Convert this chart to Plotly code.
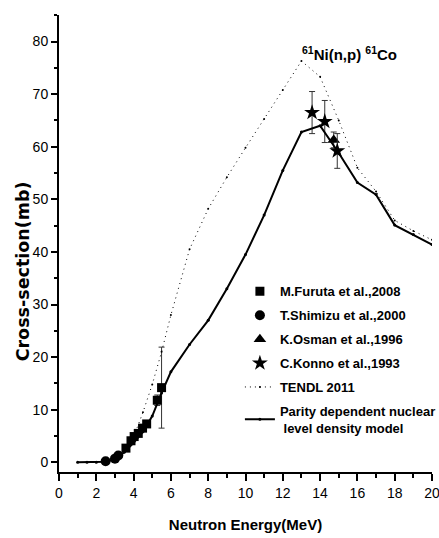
import plotly.graph_objects as go

# ---- data ----
model_x = [1, 1.5, 2, 2.5, 3, 3.5, 4, 4.5, 5, 5.5, 6, 7, 8, 9, 10, 11, 12, 13, 14, 15, 16, 17, 18, 19, 20]
model_y = [0, 0, 0, 0.1, 0.6, 1.9, 3.7, 5.8, 8.8, 13.2, 17.2, 22.4, 27.0, 33.0, 39.5, 47.0, 55.5, 62.8, 64.0, 58.8, 53.2, 50.9, 45.1, 43.3, 41.4]

tendl_x = [3, 3.5, 4, 4.5, 5, 5.5, 6, 7, 8, 9, 10, 11, 12, 13, 14, 15, 16, 17, 18, 19, 20]
tendl_y = [0.4, 2.0, 4.8, 9.5, 14.8, 21.0, 28.0, 40.5, 48.2, 54.2, 59.8, 65.3, 70.8, 76.3, 73.3, 65.0, 56.0, 51.5, 46.0, 44.0, 42.3]

furuta_x = [3.59, 3.86, 4.03, 4.25, 4.48, 4.70, 5.27, 5.50]
furuta_y = [2.7, 4.1, 4.9, 5.5, 6.5, 7.3, 11.8, 14.2]
furuta_err = [0, 0, 0, 0, 0, 0, 1.0, 7.7]

shimizu_x = [2.5, 3.0, 3.18]
shimizu_y = [0.2, 0.7, 1.3]

osman_x = [14.73]
osman_y = [61.3]
osman_err = [1.5]

konno_x = [13.57, 14.25, 14.92]
konno_y = [66.5, 64.8, 59.2]
konno_err = [4.0, 4.0, 3.3]

x_ticks = [0, 2, 4, 6, 8, 10, 12, 14, 16, 18, 20]
y_ticks = [0, 10, 20, 30, 40, 50, 60, 70, 80]

FONT = "Liberation Sans, Arial, sans-serif"

fig = go.Figure()

err_style = dict(type="data", visible=True, color="#333", thickness=1, width=3)

fig.add_trace(go.Scatter(
    x=furuta_x, y=furuta_y, mode="markers", name="<b>M.Furuta et al.,2008</b>",
    marker=dict(symbol="square", size=9, color="black"),
    error_y=dict(array=furuta_err, **err_style), legendgroup="a"))
fig.add_trace(go.Scatter(
    x=shimizu_x, y=shimizu_y, mode="markers", name="<b>T.Shimizu et al.,2000</b>",
    marker=dict(symbol="circle", size=10, color="black"), legendgroup="b"))
fig.add_trace(go.Scatter(
    x=osman_x, y=osman_y, mode="markers", name="<b>K.Osman et al.,1996</b>",
    marker=dict(symbol="triangle-up", size=11, color="black"),
    error_y=dict(array=osman_err, **err_style), legendgroup="c"))
fig.add_trace(go.Scatter(
    x=konno_x, y=konno_y, mode="markers", name="<b>C.Konno et al.,1993</b>",
    marker=dict(symbol="star", size=12, color="black"),
    error_y=dict(array=konno_err, **err_style), legendgroup="d"))
fig.add_trace(go.Scatter(
    x=tendl_x, y=tendl_y, mode="lines+markers", name="<b>TENDL 2011</b>",
    line=dict(color="black", width=1, dash="1px,4px"),
    marker=dict(size=2, color="black"), legendgroup="e"))
fig.add_trace(go.Scatter(
    x=model_x, y=model_y, mode="lines+markers",
    name="<b>Parity dependent nuclear</b><br><b>\u00a0level density model</b>",
    line=dict(color="black", width=2),
    marker=dict(size=3, color="black"), legendgroup="f"))

fig.add_annotation(
    text="<b><sup>61</sup>Ni(n,p) <sup>61</sup>Co</b>",
    xref="paper", yref="paper", x=0.78, y=0.915, xanchor="center", yanchor="middle",
    showarrow=False, font=dict(family=FONT, size=15, color="black"))

fig.add_annotation(
    text="<b>Cross-section(mb)</b>", textangle=-90,
    xref="paper", yref="paper", x=-0.098, y=0.44, xanchor="center", yanchor="middle",
    showarrow=False, font=dict(family="DejaVu Sans", size=17.5, color="black"))

fig.update_layout(
    width=439, height=538,
    margin=dict(l=59, r=7, t=15, b=66, autoexpand=False),
    paper_bgcolor="white", plot_bgcolor="white",
    showlegend=True,
    legend=dict(x=0.485, y=0.428, xanchor="left", yanchor="top",
                bgcolor="rgba(0,0,0,0)", font=dict(family=FONT, size=13, color="black"),
                tracegroupgap=4, itemwidth=30),
    xaxis=dict(range=[0, 20], tickvals=x_ticks, ticks="outside", ticklen=7, tickwidth=1.5,
               tickcolor="black", showline=True, linecolor="black", linewidth=2,
               showgrid=False, zeroline=False, ticklabeloverflow="allow",
               tickfont=dict(family=FONT, size=14, color="black"),
               minor=dict(dtick=1, ticks="outside", ticklen=4, tickcolor="black", tickwidth=1.5),
               title=dict(text="<b>Neutron Energy(MeV)</b>", standoff=20,
                          font=dict(family=FONT, size=15, color="black"))),
    yaxis=dict(range=[-1.84, 85.05], tickvals=y_ticks, ticks="outside", ticklen=6, tickwidth=1.5,
               tickcolor="black", showline=True, linecolor="black", linewidth=2,
               showgrid=False, zeroline=False,
               tickfont=dict(family=FONT, size=14, color="black"),
               minor=dict(dtick=5, ticks="outside", ticklen=3, tickcolor="black", tickwidth=1.5)),
)

fig.write_html("out.html", config={"displayModeBar": False},
               post_script="document.body.style.margin='0px';")
